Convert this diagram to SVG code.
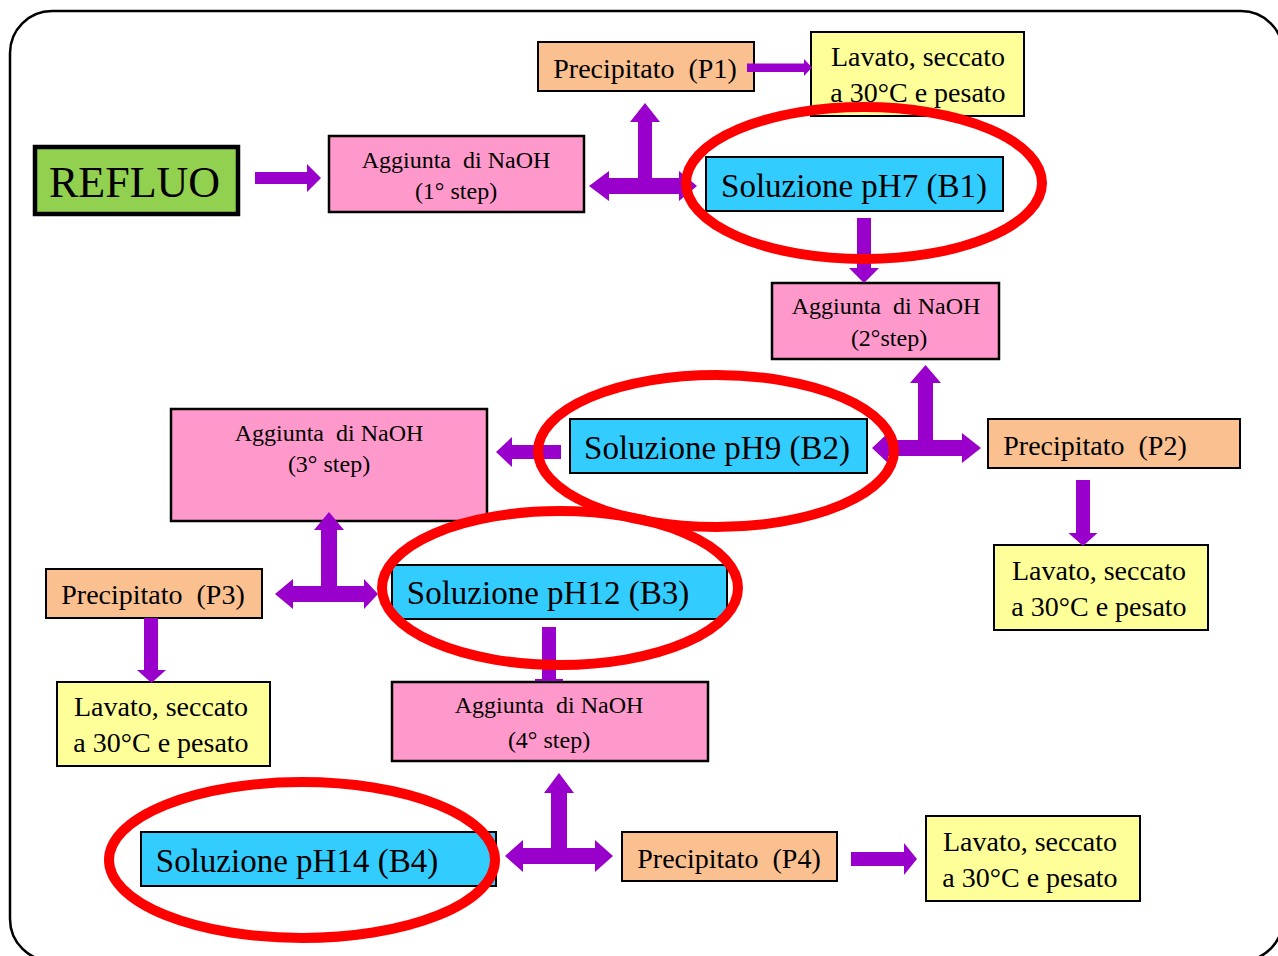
<svg xmlns="http://www.w3.org/2000/svg" width="1278" height="956" viewBox="0 0 1278 956" font-family="Liberation Serif, Times New Roman, serif">
<style>
text{font-family:"Liberation Serif","Times New Roman",serif;fill:#000;text-anchor:middle}
.box{stroke:#000;stroke-width:2}
.pink{fill:#FF99CC;stroke-width:2.5}
.orange{fill:#FAC090}
.yellow{fill:#FFFF99}
.cyan{fill:#33CCFF}
.green{fill:#92D050;stroke-width:4.5}
.arr{fill:#9900CC}
.ring{fill:none;stroke:#FF0000;stroke-width:10}
.t24{font-size:24px}
.t28{font-size:28px}
.t33{font-size:33px}
</style>
<rect x="10" y="11" width="1273" height="950" rx="42" ry="42" fill="#fff" stroke="#000" stroke-width="2.5"/>
<g id="refluo">
<rect class="box green" x="35" y="147" width="203" height="67"/>
<text x="134.5" y="197" font-size="44">REFLUO</text>
</g>
<g id="agg1">
<rect class="box pink" x="329" y="136" width="255" height="76"/>
<text class="t24" x="456" y="168" xml:space="preserve">Aggiunta  di NaOH</text>
<text class="t24" x="456" y="199">(1° step)</text>
</g>
<g id="p1">
<rect class="box orange" x="538" y="42" width="216" height="49"/>
<text class="t28" x="645" y="78" xml:space="preserve">Precipitato  (P1)</text>
</g>
<g id="lav1">
<rect class="box yellow" x="811" y="32" width="213" height="84"/>
<text class="t28" x="918" y="66">Lavato, seccato</text>
<text class="t28" x="918" y="102">a 30°C e pesato</text>
</g>
<g id="b1">
<rect class="box cyan" x="706" y="157" width="297" height="54"/>
<text class="t33" x="854" y="197">Soluzione pH7 (B1)</text>
</g>
<g id="agg2">
<rect class="box pink" x="772" y="283" width="227" height="76"/>
<text class="t24" x="886" y="314" xml:space="preserve">Aggiunta  di NaOH</text>
<text class="t24" x="889" y="346">(2°step)</text>
</g>
<g id="b2">
<rect class="box cyan" x="570" y="419" width="297" height="54"/>
<text class="t33" x="717" y="459">Soluzione pH9 (B2)</text>
</g>
<g id="p2">
<rect class="box orange" x="988" y="419" width="252" height="49"/>
<text class="t28" x="1095" y="455" xml:space="preserve">Precipitato  (P2)</text>
</g>
<g id="lav2">
<rect class="box yellow" x="994" y="545" width="214" height="85"/>
<text class="t28" x="1099" y="580">Lavato, seccato</text>
<text class="t28" x="1099" y="616">a 30°C e pesato</text>
</g>
<g id="agg3">
<rect class="box pink" x="171" y="409" width="316" height="112"/>
<text class="t24" x="329" y="441" xml:space="preserve">Aggiunta  di NaOH</text>
<text class="t24" x="329" y="472">(3° step)</text>
</g>
<g id="p3">
<rect class="box orange" x="46" y="569" width="216" height="49"/>
<text class="t28" x="153" y="604" xml:space="preserve">Precipitato  (P3)</text>
</g>
<g id="lav3">
<rect class="box yellow" x="57" y="682" width="213" height="84"/>
<text class="t28" x="161" y="716">Lavato, seccato</text>
<text class="t28" x="161" y="752">a 30°C e pesato</text>
</g>
<g id="b3">
<rect class="box cyan" x="392" y="565" width="335" height="54"/>
<text class="t33" x="548" y="604">Soluzione pH12 (B3)</text>
</g>
<g id="agg4">
<rect class="box pink" x="392" y="682" width="316" height="79"/>
<text class="t24" x="549" y="713" xml:space="preserve">Aggiunta  di NaOH</text>
<text class="t24" x="549" y="748">(4° step)</text>
</g>
<g id="b4">
<rect class="box cyan" x="141" y="832" width="355" height="54"/>
<text class="t33" x="297" y="872">Soluzione pH14 (B4)</text>
</g>
<g id="p4">
<rect class="box orange" x="622" y="832" width="215" height="49"/>
<text class="t28" x="729" y="868" xml:space="preserve">Precipitato  (P4)</text>
</g>
<g id="lav4">
<rect class="box yellow" x="926" y="816" width="214" height="85"/>
<text class="t28" x="1030" y="851">Lavato, seccato</text>
<text class="t28" x="1030" y="887">a 30°C e pesato</text>
</g>
<g id="connectors">
<polygon class="arr" points="255,172 307,172 307,164 321,178 307,192 307,184 255,184"/>
<polygon class="arr" points="747,63.5 804,63.5 804,59 812,67.5 804,76 804,72 747,72"/>
<polygon class="arr" points="589,186 609,171 609,178 638,178 638,122 630,122 645,103 660,122 652,122 652,178 679,178 679,171 697,186 679,201 679,194 609,194 609,201"/>
<polygon class="arr" points="857,218 871,218 871,268 879,268 864,283 849,268 857,268"/>
<polygon class="arr" points="872,448 888,433 888,440 918,440 918,383 910,383 925.5,365 941,383 933,383 933,440 962,440 962,433 981,448 962,463 962,456 888,456 888,463"/>
<polygon class="arr" points="1076,480 1090,480 1090,533 1097.5,533 1083,546 1068.5,533 1076,533"/>
<polygon class="arr" points="561,445 512,445 512,437 496,452 512,467 512,459 561,459"/>
<polygon class="arr" points="275,594 293,579 293,586 321,586 321,530 314,530 329,512 344,530 337,530 337,586 364,586 364,579 378,594 364,609 364,602 293,602 293,609"/>
<polygon class="arr" points="144,618 158,618 158,670 166,670 151.5,683 137,670 144,670"/>
<polygon class="arr" points="542,627 556,627 556,679 563,679 563,681 535,681 535,679 542,679"/>
<polygon class="arr" points="505,856 523,840 523,848 551,848 551,793 544,793 559,773 574,793 567,793 567,848 595,848 595,840 613,856 595,872 595,864 523,864 523,872"/>
<polygon class="arr" points="851,852 904,852 904,843 917,859 904,875 904,866 851,866"/>
</g>
<g id="highlights">
<ellipse class="ring" cx="864" cy="183" rx="178" ry="76"/>
<ellipse class="ring" cx="716" cy="451" rx="178" ry="76"/>
<ellipse class="ring" cx="560" cy="588" rx="178" ry="77"/>
<ellipse class="ring" cx="302" cy="860" rx="193" ry="78"/>
</g>
</svg>
